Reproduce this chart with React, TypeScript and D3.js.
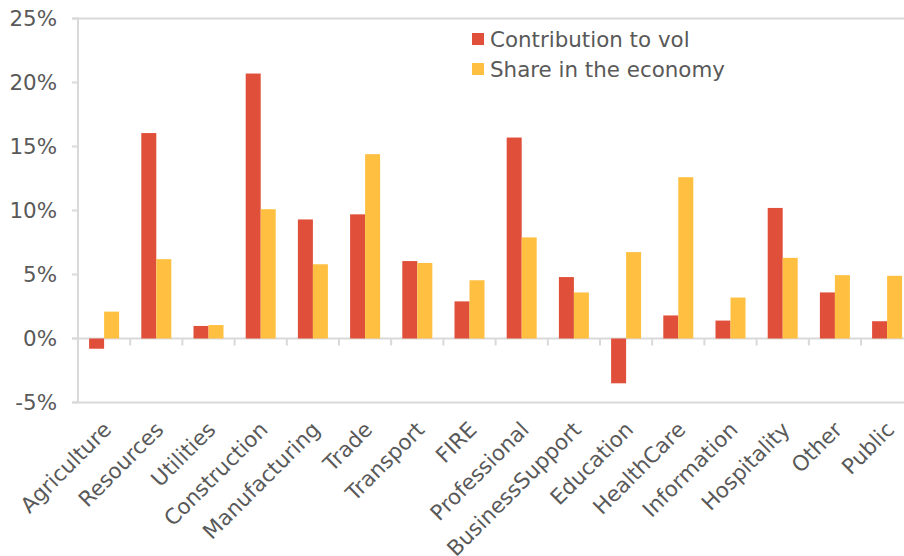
import React from "react";
import * as d3 from "d3";

const categories = ["Agriculture","Resources","Utilities","Construction","Manufacturing","Trade","Transport","FIRE","Professional","BusinessSupport","Education","HealthCare","Information","Hospitality","Other","Public"];
const contribution = [-0.8,16.05,0.98,20.7,9.3,9.7,6.05,2.9,15.7,4.8,-3.5,1.8,1.4,10.2,3.6,1.35];
const share = [2.1,6.2,1.05,10.1,5.8,14.4,5.9,4.55,7.9,3.6,6.75,12.6,3.2,6.3,4.95,4.9];
const yTicks = [-5,0,5,10,15,20,25];
const seriesNames = ["Contribution to vol","Share in the economy"];
const colors = ["#E04F39","#FFC041"];

const W = 904, H = 556;
const left = 78, bandW = 52.2;
const font = "'DejaVu Sans', Verdana, sans-serif";
const textColor = "#595959";
const axisColor = "#D9D9D9";
const fs = 21.4;

export default function App() {
  const x = d3.scaleBand<string>().domain(categories).range([left, left + bandW * categories.length]);
  const y = d3.scaleLinear().domain([-5, 25]).range([402.5, 18.5]);
  const barW = 15;
  const right = W + 20;
  return (
    <svg width={W} height={H} style={{ position: "absolute", left: 0, top: 0, background: "#fff" }} fontFamily={font}>
      {[25, -5, 0].map((v) => (
        <line key={"h" + v} x1={left - 6} x2={right} y1={y(v)} y2={y(v)} stroke={axisColor} strokeWidth={2} />
      ))}
      <line x1={left} x2={left} y1={y(25)} y2={y(-5)} stroke={axisColor} strokeWidth={2} />
      {yTicks.map((v) => (
        <g key={"yt" + v}>
          <line x1={left - 6} x2={left} y1={y(v)} y2={y(v)} stroke={axisColor} strokeWidth={2} />
          <text x={57} y={y(v)} dy="0.36em" textAnchor="end" fontSize={fs} fill={textColor}>{v + "%"}</text>
        </g>
      ))}
      {categories.map((c) => (
        <line key={"ct" + c} x1={(x(c) as number) + bandW} x2={(x(c) as number) + bandW} y1={y(0)} y2={y(0) + 7} stroke={axisColor} strokeWidth={2} />
      ))}
      {categories.map((c, i) => {
        const cx = (x(c) as number) + bandW / 2;
        const a = contribution[i], b = share[i];
        return (
          <g key={"b" + c}>
            <rect x={cx - barW} width={barW} y={y(Math.max(0, a))} height={Math.abs(y(a) - y(0))} fill={colors[0]} />
            <rect x={cx} width={barW} y={y(Math.max(0, b))} height={Math.abs(y(b) - y(0))} fill={colors[1]} />
          </g>
        );
      })}
      {categories.map((c) => {
        const cx = (x(c) as number) + bandW / 2;
        return (
          <text key={"cl" + c} transform={`translate(${cx + 8.5},${431}) rotate(-45)`} textAnchor="end" fontSize={fs} fill={textColor}>{c}</text>
        );
      })}
      {seriesNames.map((s, i) => (
        <g key={"lg" + s} transform={`translate(472,${33 + i * 30})`}>
          <rect width={12} height={12} fill={colors[i]} />
          <text x={18} y={6} dy="0.36em" fontSize={fs} fill={textColor}>{s}</text>
        </g>
      ))}
    </svg>
  );
}
